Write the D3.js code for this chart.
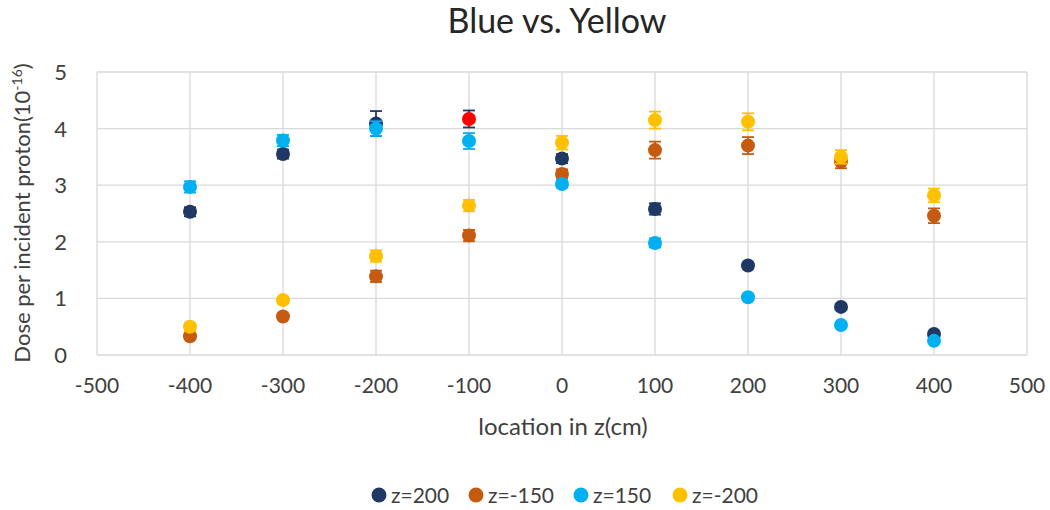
<html>
<head>
<script src="https://cdnjs.cloudflare.com/ajax/libs/d3/7.8.5/d3.min.js"></script>
<style>
  body { margin: 0; background: #fff; }
  text { font-family: Lato, "Open Sans", sans-serif; fill: #404040; }
</style>
</head>
<body>
<svg width="1050" height="510"></svg>
<script>
// data
let locations = [-400, -300, -200, -100, 0, 100, 200, 300, 400];
let seriesNames = ["z=200", "z=-150", "z=150", "z=-200"];
let seriesColors = ["#203864", "#C55A11", "#00B0F0", "#FFC000"];
let z200 = [2.53, 3.55, 4.09, 4.17, 3.47, 2.58, 1.58, 0.85, 0.37];
let z200err = [0.08, 0.08, 0.22, 0.15, 0.08, 0.1, 0.05, 0.04, 0.03];
let zm150 = [0.33, 0.68, 1.39, 2.11, 3.2, 3.62, 3.7, 3.42, 2.46];
let zm150err = [0.05, 0.05, 0.1, 0.1, 0.08, 0.15, 0.15, 0.12, 0.13];
let z150 = [2.97, 3.79, 4.0, 3.78, 3.02, 1.98, 1.02, 0.53, 0.25];
let z150err = [0.1, 0.1, 0.13, 0.14, 0.06, 0.08, 0.05, 0.04, 0.03];
let zm200 = [0.5, 0.97, 1.75, 2.64, 3.75, 4.15, 4.12, 3.5, 2.82];
let zm200err = [0.06, 0.06, 0.1, 0.1, 0.12, 0.15, 0.15, 0.12, 0.12];
// the z=200 point at -100 is drawn red
let highlight = { series: 0, index: 3, color: "#FF0000" };

let xTicks = d3.range(-500, 501, 100);
let yTicks = [0, 1, 2, 3, 4, 5];

let values = [z200, zm150, z150, zm200];
let errors = [z200err, zm150err, z150err, zm200err];

var svg = d3.select("svg");
var x = d3.scaleLinear().domain([-500, 500]).range([97, 1027]);
var y = d3.scaleLinear().domain([0, 5]).range([355, 72]);

// grid
svg.append("g").selectAll("line").data(yTicks).enter().append("line")
    .attr("x1", x(-500)).attr("x2", x(500))
    .attr("y1", d => y(d)).attr("y2", d => y(d))
    .attr("stroke", "#d9d9d9").attr("stroke-width", 1.3);
svg.append("g").selectAll("line").data(xTicks).enter().append("line")
    .attr("x1", d => x(d)).attr("x2", d => x(d))
    .attr("y1", y(0)).attr("y2", y(5))
    .attr("stroke", "#d9d9d9").attr("stroke-width", 1.3);

// tick labels
svg.append("g").selectAll("text").data(yTicks).enter().append("text")
    .attr("x", 67).attr("y", d => y(d) + 8)
    .attr("text-anchor", "end").style("font-size", "22px")
    .text(d => d);
svg.append("g").selectAll("text").data(xTicks).enter().append("text")
    .attr("x", d => x(d)).attr("y", 393)
    .attr("text-anchor", "middle").style("font-size", "21px")
    .text(d => d);

// titles
svg.append("text").attr("x", 557).attr("y", 33)
    .attr("text-anchor", "middle").style("font-size", "34px").style("fill", "#262626")
    .text("Blue vs. Yellow");
svg.append("text").attr("x", 563).attr("y", 435)
    .attr("text-anchor", "middle").style("font-size", "24px")
    .text("location in z(cm)");
var yt = svg.append("text")
    .attr("transform", "translate(30,213) rotate(-90)")
    .attr("text-anchor", "middle").style("font-size", "22px");
yt.append("tspan").text("Dose per incident proton(10");
yt.append("tspan").attr("dy", -8).style("font-size", "14px").text("-16");
yt.append("tspan").attr("dy", 8).text(")");

// series
values.forEach((vals, s) => {
    var g = svg.append("g");
    var pts = locations.map((loc, i) => ({ loc: loc, v: vals[i], e: errors[s][i], i: i }));
    var eb = g.selectAll("g.err").data(pts).enter().append("g")
        .attr("stroke", d => seriesColors[s]).attr("stroke-width", 1.8);
    eb.append("line")
        .attr("x1", d => x(d.loc)).attr("x2", d => x(d.loc))
        .attr("y1", d => y(d.v + d.e)).attr("y2", d => y(d.v - d.e));
    eb.append("line")
        .attr("x1", d => x(d.loc) - 6).attr("x2", d => x(d.loc) + 6)
        .attr("y1", d => y(d.v + d.e)).attr("y2", d => y(d.v + d.e));
    eb.append("line")
        .attr("x1", d => x(d.loc) - 6).attr("x2", d => x(d.loc) + 6)
        .attr("y1", d => y(d.v - d.e)).attr("y2", d => y(d.v - d.e));
    g.selectAll("circle").data(pts).enter().append("circle")
        .attr("cx", d => x(d.loc)).attr("cy", d => y(d.v)).attr("r", 7)
        .attr("fill", d => (s === highlight.series && d.i === highlight.index) ? highlight.color : seriesColors[s]);
});

// legend
var legX = [379, 476, 581, 680];
var leg = svg.append("g").selectAll("g").data(seriesNames).enter().append("g")
    .attr("transform", (d, i) => "translate(" + legX[i] + ",495)");
leg.append("circle").attr("r", 7.5).attr("fill", (d, i) => seriesColors[i]);
leg.append("text").attr("x", 12).attr("y", 8).style("font-size", "21px").text(d => d);
</script>
</body>
</html>
